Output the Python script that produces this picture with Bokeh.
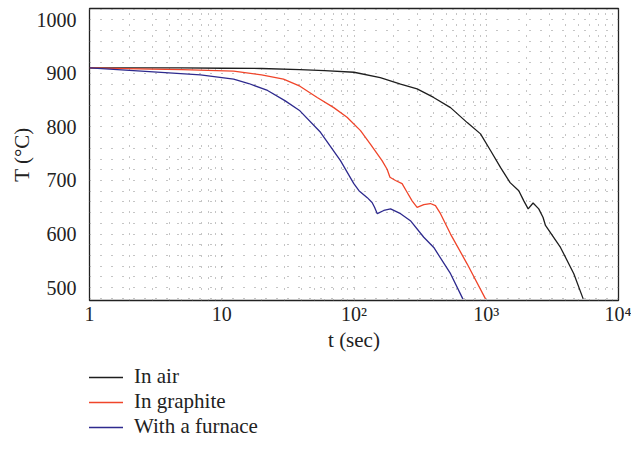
import numpy as np
from bokeh.plotting import figure
from bokeh.layouts import column
from bokeh.models import Range1d, FixedTicker, Legend, LegendItem
from bokeh.embed import file_html
from bokeh.resources import INLINE

# ---- data ----
air_t = [1, 5, 10, 20, 39, 60, 100, 158, 225, 300, 400, 537, 718, 905, 1077, 1284, 1515,
         1762, 1923, 2075, 2260, 2494, 2690, 2804, 3642, 4593, 5408]
air_T = [910, 910, 909.5, 909, 907, 905, 902, 892, 880, 871, 855, 836, 808, 787, 756, 724, 696,
         681, 662, 647, 658, 647, 631, 616, 575, 526, 479]

gra_t = [1, 2.9, 5, 12.3, 20, 29.3, 39, 52.7, 70.3, 88.6, 112, 133, 163, 178, 187, 206, 231,
         252, 275, 300, 337, 378, 413, 451, 537, 718, 987]
gra_T = [910, 908, 907, 904, 897, 889, 876, 855, 836, 818, 793, 768, 737, 721, 706, 700, 694,
         678, 662, 650, 655, 657, 653, 638, 600, 544, 479]

fur_t = [1, 2.15, 6.9, 12.3, 16, 22.2, 30, 39, 55.8, 79, 99.7, 109, 126, 137, 143, 150, 168,
         189, 225, 267, 337, 401, 537, 665]
fur_T = [910, 905, 897, 889, 881, 868, 849, 830, 790, 737, 694, 681, 668, 659, 650, 638, 644,
         647, 638, 625, 594, 575, 526, 479]

series_names = ["In air", "In graphite", "With a furnace"]
series_colors = ["#1e1e1e", "#f0452a", "#2e2a8e"]

x_ticks = [1, 10, 100, 1000, 10000]
x_tick_labels = {1: "1", 10: "10", 100: "10²", 1000: "10³", 10000: "10⁴"}
y_ticks = [500, 600, 700, 800, 900, 1000]
y_grid_vals = list(range(480, 1021, 20))

SERIF = "Liberation Serif"
TXT = "#222222"

p = figure(x_axis_type="log", output_backend="svg", toolbar_location=None,
           width=631, height=365,
           min_border_left=89, min_border_right=13, min_border_top=8, min_border_bottom=65,
           x_range=Range1d(1, 10000), y_range=Range1d(476, 1021))

p.outline_line_color = "#222222"
p.outline_line_width = 1.3
p.background_fill_color = "white"
p.border_fill_color = "white"

# axes
p.xaxis.ticker = FixedTicker(ticks=x_ticks)
p.xaxis.major_label_overrides = x_tick_labels
p.yaxis.ticker = FixedTicker(ticks=y_ticks)
for ax in (p.xaxis[0], p.yaxis[0]):
    ax.axis_line_color = None
    ax.major_tick_line_color = None
    ax.minor_tick_line_color = None
    ax.major_tick_out = 0
    ax.major_tick_in = 0
    ax.minor_tick_out = 0
    ax.major_label_text_font = SERIF
    ax.major_label_text_font_size = "20px"
    ax.major_label_text_color = TXT
    ax.axis_label_text_font = SERIF
    ax.axis_label_text_font_size = "21px"
    ax.axis_label_text_font_style = "normal"
    ax.axis_label_text_color = TXT
p.xaxis.major_label_standoff = 2
p.yaxis.major_label_standoff = 13
p.xaxis.axis_label = "t (sec)"
p.yaxis.axis_label = "T (°C)"
p.xaxis.axis_label_standoff = 0
p.yaxis.axis_label_standoff = 0

# dotted grids
minor_x = [m * 10 ** d for d in range(0, 4) for m in range(1, 10)][1:]
p.xgrid.ticker = FixedTicker(ticks=minor_x)
p.xgrid.grid_line_color = "#8a8a8a"
p.xgrid.grid_line_dash = "1 10"
p.xgrid.grid_line_width = 1
p.ygrid.ticker = FixedTicker(ticks=y_grid_vals)
p.ygrid.grid_line_color = "#8a8a8a"
p.ygrid.grid_line_dash = "1 10"
p.ygrid.grid_line_width = 1

series = [(air_t, air_T), (gra_t, gra_T), (fur_t, fur_T)]
for (tt, TT), col in zip(series, series_colors):
    p.line(tt, TT, line_color=col, line_width=1.3)

# legend strip beneath the chart (hidden copies of the series supply the swatches)
p2 = figure(x_axis_type="log", output_backend="svg", toolbar_location=None, width=631, height=86,
            min_border=0, min_border_left=0, min_border_right=0, min_border_top=0, min_border_bottom=0,
            x_axis_location=None, y_axis_location=None,
            x_range=Range1d(1, 10000), y_range=Range1d(476, 1021))
p2.grid.visible = False
p2.outline_line_color = None
p2.border_fill_color = "white"
leg_renderers = []
for (tt, TT), col in zip(series, series_colors):
    r = p2.line(tt, TT, line_color=col, line_width=1.3)
    r.visible = False
    leg_renderers.append(r)
legend = Legend(items=[LegendItem(label=n, renderers=[r]) for n, r in zip(series_names, leg_renderers)],
                location=(-2, 12), orientation="vertical")
legend.border_line_color = None
legend.background_fill_alpha = 0
legend.inactive_fill_alpha = 0
legend.padding = 0
legend.margin = 0
legend.spacing = 0
legend.glyph_width = 36
legend.glyph_height = 20
legend.label_height = 20
legend.label_standoff = 11
legend.label_text_font = SERIF
legend.label_text_font_size = "21px"
legend.label_text_color = TXT
p2.add_layout(legend, "center")

open("out.html", "w").write(file_html(column(p, p2, spacing=0), INLINE))
